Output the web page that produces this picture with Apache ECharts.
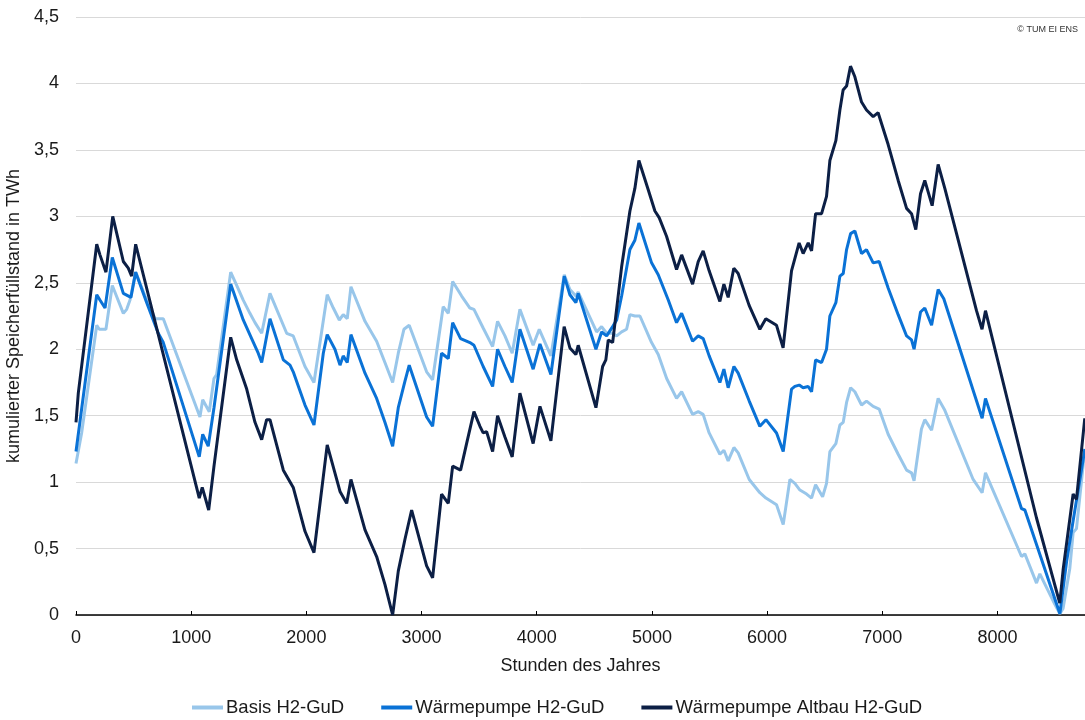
<!DOCTYPE html>
<html>
<head>
<meta charset="utf-8">
<title>Speicherfüllstand</title>
<script src="https://cdn.jsdelivr.net/npm/echarts@6/dist/echarts.min.js"></script>
<style>
  html, body { margin: 0; padding: 0; background: #fff; }
  #chart { width: 1085px; height: 720px; }
</style>
</head>
<body>
<div id="chart"></div>
<script>
// Stunden des Jahres / kumulierter Speicherfuellstand (TWh)
const basisHours = [0, 49, 180, 202, 260, 315, 411, 440, 469, 518, 614, 686, 758, 1076, 1100, 1157, 1198, 1221, 1343, 1395, 1452, 1510, 1554, 1612, 1684, 1829, 1886, 1988, 2066, 2181, 2234, 2286, 2320, 2355, 2387, 2509, 2610, 2682, 2749, 2798, 2847, 2893, 3044, 3096, 3188, 3232, 3270, 3348, 3420, 3455, 3535, 3617, 3660, 3724, 3787, 3854, 3969, 4022, 4123, 4239, 4288, 4340, 4360, 4520, 4563, 4607, 4659, 4694, 4737, 4780, 4809, 4852, 4896, 4997, 5055, 5128, 5214, 5258, 5353, 5402, 5445, 5497, 5590, 5625, 5662, 5712, 5749, 5845, 5937, 5990, 6082, 6140, 6198, 6241, 6285, 6343, 6386, 6421, 6482, 6516, 6545, 6597, 6632, 6661, 6690, 6725, 6762, 6820, 6863, 6921, 6973, 7051, 7138, 7211, 7254, 7276, 7340, 7369, 7428, 7485, 7543, 7789, 7867, 7896, 8209, 8238, 8339, 8368, 8498, 8542, 8570, 8628, 8657, 8686, 8759]
const basisValues = [1.14, 1.37, 2.18, 2.15, 2.15, 2.48, 2.27, 2.30, 2.37, 2.58, 2.37, 2.23, 2.23, 1.49, 1.62, 1.53, 1.78, 1.81, 2.58, 2.48, 2.37, 2.27, 2.20, 2.12, 2.42, 2.12, 2.10, 1.87, 1.75, 2.41, 2.31, 2.22, 2.26, 2.23, 2.47, 2.21, 2.06, 1.90, 1.75, 1.97, 2.15, 2.18, 1.83, 1.77, 2.32, 2.27, 2.51, 2.40, 2.31, 2.30, 2.16, 2.02, 2.21, 2.10, 1.97, 2.30, 2.03, 2.15, 1.95, 2.56, 2.45, 2.40, 2.43, 2.13, 2.17, 2.12, 2.12, 2.10, 2.13, 2.15, 2.26, 2.25, 2.25, 2.05, 1.96, 1.78, 1.63, 1.68, 1.51, 1.53, 1.51, 1.37, 1.21, 1.24, 1.16, 1.26, 1.22, 1.02, 0.92, 0.88, 0.83, 0.68, 1.02, 0.99, 0.94, 0.91, 0.88, 0.98, 0.89, 0.99, 1.23, 1.29, 1.43, 1.45, 1.60, 1.71, 1.68, 1.58, 1.61, 1.57, 1.55, 1.36, 1.21, 1.09, 1.07, 1.01, 1.40, 1.47, 1.39, 1.63, 1.54, 1.02, 0.92, 1.07, 0.44, 0.46, 0.24, 0.31, 0.08, 0.01, 0.05, 0.35, 0.62, 0.65, 1.25]

const wpHours = [0, 180, 208, 252, 315, 411, 477, 518, 614, 714, 758, 1070, 1100, 1148, 1198, 1343, 1452, 1525, 1582, 1612, 1684, 1800, 1858, 1886, 1988, 2066, 2147, 2181, 2248, 2292, 2320, 2355, 2387, 2509, 2610, 2682, 2749, 2798, 2856, 2893, 3044, 3096, 3174, 3232, 3270, 3339, 3420, 3455, 3535, 3617, 3660, 3724, 3787, 3854, 3969, 4028, 4123, 4239, 4288, 4340, 4360, 4514, 4563, 4607, 4659, 4694, 4737, 4809, 4852, 4887, 4997, 5055, 5142, 5214, 5258, 5353, 5402, 5445, 5497, 5590, 5625, 5662, 5712, 5749, 5845, 5937, 5990, 6082, 6140, 6212, 6241, 6279, 6313, 6357, 6386, 6421, 6473, 6516, 6545, 6597, 6632, 6661, 6690, 6725, 6762, 6820, 6863, 6921, 6973, 7051, 7138, 7211, 7254, 7276, 7332, 7369, 7428, 7485, 7534, 7804, 7867, 7896, 8209, 8238, 8542, 8600, 8657, 8759]
const wpValues = [1.23, 2.41, 2.37, 2.31, 2.69, 2.42, 2.39, 2.58, 2.35, 2.12, 2.05, 1.19, 1.36, 1.27, 1.56, 2.49, 2.22, 2.08, 1.97, 1.90, 2.23, 1.92, 1.88, 1.83, 1.58, 1.43, 1.97, 2.11, 2.00, 1.88, 1.95, 1.90, 2.11, 1.82, 1.63, 1.45, 1.27, 1.56, 1.76, 1.88, 1.49, 1.42, 1.97, 1.93, 2.20, 2.08, 2.05, 2.03, 1.87, 1.72, 2.00, 1.87, 1.75, 2.15, 1.85, 2.04, 1.81, 2.55, 2.41, 2.35, 2.42, 2.00, 2.13, 2.10, 2.17, 2.22, 2.40, 2.75, 2.82, 2.95, 2.65, 2.56, 2.37, 2.20, 2.27, 2.06, 2.10, 2.08, 1.95, 1.75, 1.85, 1.71, 1.87, 1.82, 1.61, 1.42, 1.47, 1.37, 1.23, 1.70, 1.72, 1.73, 1.71, 1.72, 1.68, 1.92, 1.90, 2.00, 2.25, 2.35, 2.55, 2.57, 2.75, 2.87, 2.89, 2.72, 2.75, 2.65, 2.66, 2.46, 2.26, 2.10, 2.07, 2.00, 2.28, 2.31, 2.18, 2.45, 2.38, 1.65, 1.48, 1.63, 0.80, 0.79, 0.01, 0.40, 0.71, 1.25]

const altbauHours = [0, 20, 35, 180, 208, 260, 319, 411, 454, 483, 518, 1070, 1096, 1152, 1198, 1213, 1343, 1395, 1482, 1554, 1612, 1655, 1684, 1800, 1886, 1988, 2066, 2181, 2292, 2350, 2387, 2509, 2610, 2682, 2749, 2798, 2856, 2914, 3044, 3096, 3174, 3232, 3270, 3339, 3391, 3455, 3507, 3535, 3565, 3617, 3660, 3724, 3787, 3854, 3969, 4028, 4123, 4238, 4288, 4340, 4360, 4514, 4572, 4600, 4621, 4659, 4737, 4809, 4852, 4887, 4968, 5026, 5063, 5127, 5214, 5258, 5353, 5402, 5445, 5497, 5590, 5625, 5662, 5711, 5749, 5844, 5937, 5989, 6082, 6139, 6212, 6278, 6313, 6357, 6386, 6421, 6473, 6516, 6545, 6597, 6632, 6660, 6690, 6724, 6762, 6820, 6863, 6921, 6964, 7051, 7138, 7211, 7254, 7291, 7332, 7369, 7433, 7485, 7543, 7818, 7866, 7896, 8339, 8541, 8570, 8657, 8686, 8758]
const altbauValues = [1.45, 1.67, 1.68, 2.79, 2.71, 2.58, 3.00, 2.66, 2.61, 2.55, 2.79, 0.88, 0.96, 0.79, 1.12, 1.13, 2.09, 1.92, 1.70, 1.45, 1.32, 1.47, 1.47, 1.09, 0.96, 0.63, 0.47, 1.28, 0.93, 0.84, 1.02, 0.64, 0.44, 0.23, 0.00, 0.33, 0.57, 0.79, 0.37, 0.28, 0.91, 0.84, 1.12, 1.09, 1.29, 1.53, 1.42, 1.37, 1.38, 1.23, 1.50, 1.34, 1.19, 1.67, 1.29, 1.57, 1.31, 2.17, 2.01, 1.96, 2.03, 1.56, 1.87, 1.92, 2.07, 2.05, 2.62, 3.04, 3.21, 3.42, 3.20, 3.04, 2.99, 2.85, 2.60, 2.71, 2.49, 2.66, 2.74, 2.59, 2.36, 2.49, 2.39, 2.61, 2.57, 2.33, 2.15, 2.23, 2.18, 2.01, 2.59, 2.80, 2.72, 2.80, 2.74, 3.02, 3.02, 3.15, 3.42, 3.57, 3.80, 3.95, 3.98, 4.13, 4.05, 3.86, 3.80, 3.75, 3.78, 3.54, 3.27, 3.06, 3.02, 2.90, 3.17, 3.27, 3.08, 3.39, 3.21, 2.29, 2.15, 2.29, 0.73, 0.09, 0.34, 0.91, 0.87, 1.48]

const seriesNames = ['Basis H2-GuD', 'Wärmepumpe H2-GuD', 'Wärmepumpe Altbau H2-GuD']
const seriesColors = ['#98c6ea', '#0a72d6', '#0c1f45']

const font = 'Liberation Sans, Arial, sans-serif'

function pairs (xs, ys) {
  return xs.map((x, i) => [x, ys[i]])
}

const chart = echarts.init(document.getElementById('chart'), null, {renderer: 'canvas'})

chart.setOption({
  animation: false,
  backgroundColor: '#fff',
  textStyle: {fontFamily: font},
  grid: {
    left: 76,
    right: 0,
    top: 17,
    bottom: 105,
    containLabel: false,
    outerBoundsMode: 'none'
  },
  legend: {
    bottom: 3,
    left: 192,
    padding: 0,
    icon: 'rect',
    itemWidth: 31,
    itemHeight: 4,
    itemGap: 37,
    textStyle: {fontSize: 18.5, color: '#1a1a1a', fontFamily: font, padding: [0, 0, 0, -2]},
    data: seriesNames
  },
  xAxis: {
    type: 'value',
    min: 0,
    max: 8760,
    interval: 1000,
    name: 'Stunden des Jahres',
    nameLocation: 'middle',
    nameGap: 42,
    nameTextStyle: {fontSize: 18, color: '#1a1a1a'},
    axisLine: {show: true, onZero: false, lineStyle: {color: '#000', width: 1.5}},
    axisTick: {show: true, inside: true, length: 4, lineStyle: {color: '#000'}},
    axisLabel: {
      fontSize: 18,
      color: '#1a1a1a',
      margin: 14,
      showMaxLabel: false,
      formatter: v => (v % 1000 === 0 ? String(v) : '')
    },
    splitLine: {show: false}
  },
  yAxis: {
    type: 'value',
    min: 0,
    max: 4.5,
    interval: 0.5,
    name: 'kumulierter Speicherfüllstand in TWh',
    nameLocation: 'middle',
    nameGap: 43,
    nameTextStyle: {fontSize: 18, color: '#1a1a1a'},
    axisLine: {show: false},
    axisTick: {show: false},
    axisLabel: {
      fontSize: 18,
      color: '#1a1a1a',
      margin: 17,
      formatter: v => String(v).replace('.', ',')
    },
    splitLine: {show: true, lineStyle: {color: '#d9d9d9', width: 1}}
  },
  graphic: [{
    type: 'text',
    right: 7,
    top: 25,
    style: {text: '© TUM EI ENS', fontSize: 9, fill: '#333', fontFamily: font}
  }],
  series: [
    {name: seriesNames[0], data: pairs(basisHours, basisValues)},
    {name: seriesNames[1], data: pairs(wpHours, wpValues)},
    {name: seriesNames[2], data: pairs(altbauHours, altbauValues)}
  ].map((s, i) => ({
    ...s,
    type: 'line',
    symbol: 'none',
    color: seriesColors[i],
    lineStyle: {color: seriesColors[i], width: 3},
    emphasis: {disabled: true}
  }))
})
</script>
</body>
</html>
